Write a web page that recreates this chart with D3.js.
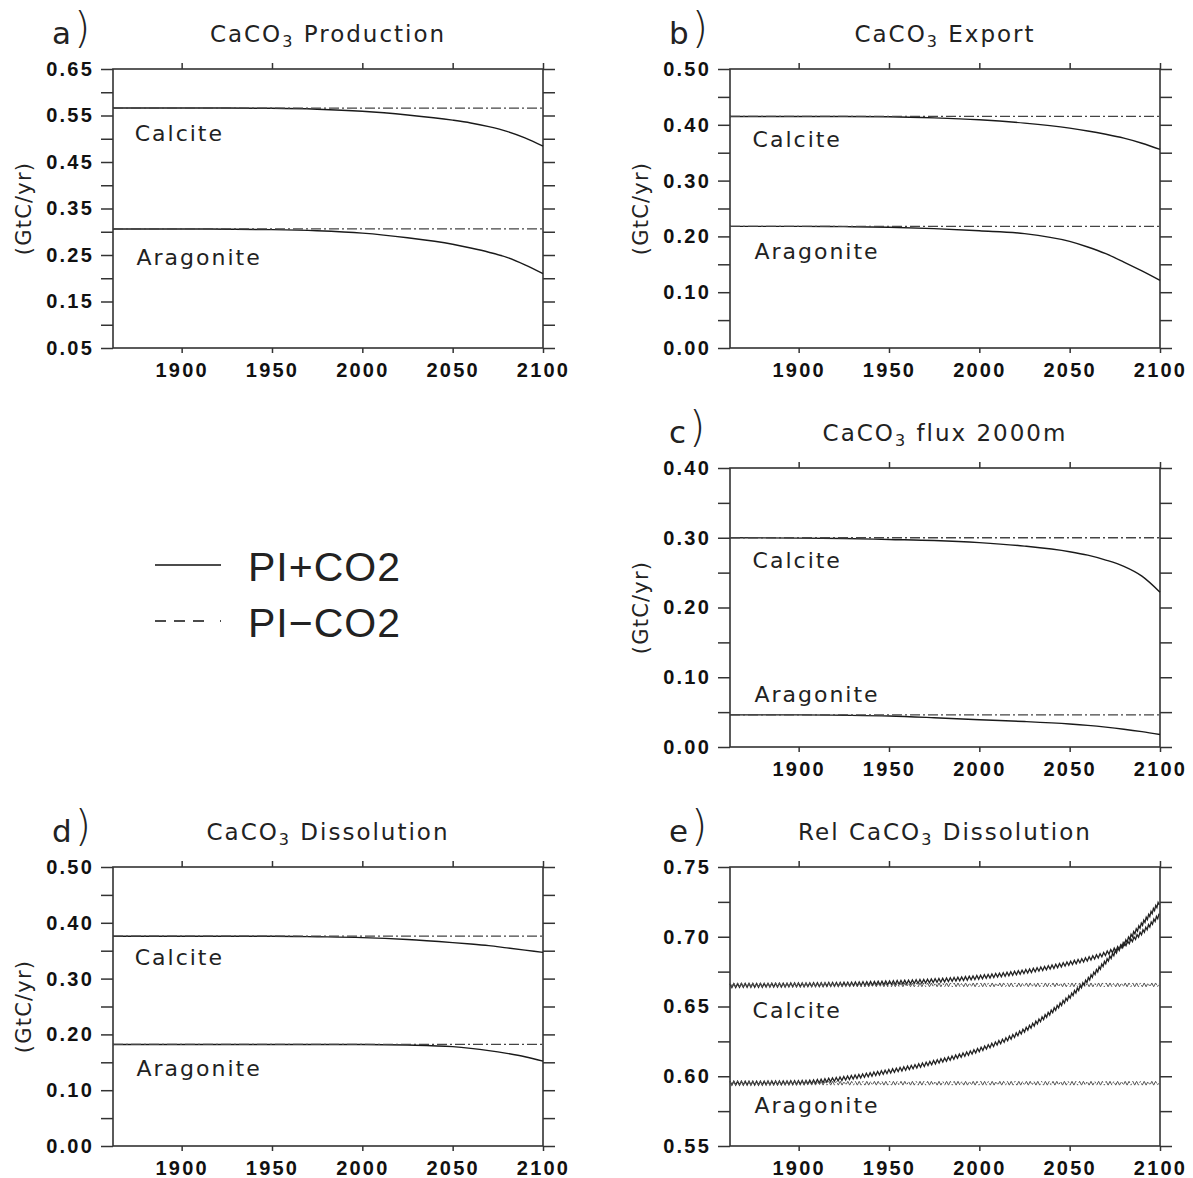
<!DOCTYPE html>
<html>
<head>
<meta charset="utf-8">
<script src="https://cdn.jsdelivr.net/npm/d3@7"></script>
<style>
  body { margin: 0; background: #fff; }
  svg text { font-family: "DejaVu Sans", sans-serif; fill: #222; }
  .tick text { font-family: "Liberation Sans", Arial, sans-serif; font-weight: bold; font-size: 20px; letter-spacing: 2.2px; fill: #111; }
</style>
</head>
<body>
<div id="chart"></div>
<script>
// sample years used by every series
const years = [1862, 1900, 1925, 1950, 1975, 2000, 2025, 2050, 2060, 2070, 2080, 2090, 2100];
const xTicks = [1900, 1950, 2000, 2050, 2100];

// a) production
const prodCalcite     = [0.566, 0.566, 0.566, 0.5655, 0.5635, 0.559, 0.551, 0.540, 0.534, 0.526, 0.516, 0.502, 0.484];
const prodCalciteCtl  = [0.566, 0.566, 0.566, 0.566, 0.566, 0.566, 0.566, 0.566, 0.566, 0.566, 0.566, 0.566, 0.566];
const prodAragonite   = [0.306, 0.306, 0.3055, 0.3045, 0.302, 0.297, 0.287, 0.273, 0.265, 0.256, 0.245, 0.229, 0.210];
const prodAragoniteCtl= [0.306, 0.306, 0.306, 0.306, 0.306, 0.306, 0.306, 0.306, 0.306, 0.306, 0.306, 0.306, 0.306];

// b) export
const expCalcite      = [0.415, 0.415, 0.415, 0.4145, 0.4125, 0.409, 0.403, 0.394, 0.389, 0.383, 0.376, 0.367, 0.356];
const expCalciteCtl   = [0.415, 0.415, 0.415, 0.415, 0.415, 0.415, 0.415, 0.415, 0.415, 0.415, 0.415, 0.415, 0.415];
const expAragonite    = [0.218, 0.218, 0.2175, 0.2165, 0.214, 0.210, 0.205, 0.191, 0.181, 0.169, 0.154, 0.138, 0.121];
const expAragoniteCtl = [0.218, 0.218, 0.218, 0.218, 0.218, 0.218, 0.218, 0.218, 0.218, 0.218, 0.218, 0.218, 0.218];

// c) flux at 2000 m
const fluxCalcite      = [0.300, 0.2995, 0.299, 0.2975, 0.296, 0.293, 0.288, 0.280, 0.275, 0.268, 0.259, 0.245, 0.222];
const fluxCalciteCtl   = [0.300, 0.300, 0.300, 0.300, 0.300, 0.300, 0.300, 0.300, 0.300, 0.300, 0.300, 0.300, 0.300];
const fluxAragonite    = [0.046, 0.046, 0.0455, 0.0445, 0.042, 0.039, 0.0365, 0.033, 0.031, 0.0285, 0.0255, 0.022, 0.018];
const fluxAragoniteCtl = [0.046, 0.046, 0.046, 0.046, 0.046, 0.046, 0.046, 0.046, 0.046, 0.046, 0.046, 0.046, 0.046];

// d) dissolution
const dissCalcite      = [0.376, 0.376, 0.376, 0.376, 0.375, 0.3735, 0.370, 0.3645, 0.362, 0.359, 0.355, 0.351, 0.347];
const dissCalciteCtl   = [0.376, 0.376, 0.376, 0.376, 0.376, 0.376, 0.376, 0.376, 0.376, 0.376, 0.376, 0.376, 0.376];
const dissAragonite    = [0.182, 0.182, 0.182, 0.182, 0.182, 0.182, 0.181, 0.178, 0.175, 0.171, 0.166, 0.160, 0.152];
const dissAragoniteCtl = [0.182, 0.182, 0.182, 0.182, 0.182, 0.182, 0.182, 0.182, 0.182, 0.182, 0.182, 0.182, 0.182];

// e) relative dissolution
const relCalcite       = [0.665, 0.6655, 0.666, 0.667, 0.6685, 0.671, 0.675, 0.681, 0.684, 0.688, 0.694, 0.703, 0.716];
const relCalciteCtl    = [0.6655, 0.6655, 0.6655, 0.6655, 0.6655, 0.6655, 0.6655, 0.6655, 0.6655, 0.6655, 0.6655, 0.6655, 0.6655];
const relAragonite     = [0.595, 0.5955, 0.5985, 0.6035, 0.610, 0.619, 0.633, 0.657, 0.669, 0.682, 0.695, 0.709, 0.725];
const relAragoniteCtl  = [0.595, 0.595, 0.595, 0.595, 0.595, 0.595, 0.595, 0.595, 0.595, 0.595, 0.595, 0.595, 0.595];

// tick labels per panel
const ticksA = [0.05, 0.15, 0.25, 0.35, 0.45, 0.55, 0.65];
const ticks05 = [0.00, 0.10, 0.20, 0.30, 0.40, 0.50];
const ticks04 = [0.00, 0.10, 0.20, 0.30, 0.40];
const ticksE = [0.55, 0.60, 0.65, 0.70, 0.75];

// where "Calcite" / "Aragonite" sit, in data units [year, value]
const labelCalcite   = [[1874, 0.496], [1874.5, 0.361], [1874.5, 0.257], [1874, 0.324], [1874.5, 0.642]];
const labelAragonite = [[1875, 0.228], [1875.5, 0.160], [1875.5, 0.065], [1875, 0.126], [1875.5, 0.574]];

const W = 1193, H = 1178;
const pw = 430, ph = 279;

const panels = [
  { letter: "a", pre: "", post: " Production", left: 113, top: 69, domain: [0.05, 0.65], labels: ticksA, step: 0.05, ylab: true,
    series: [prodCalcite, prodCalciteCtl, prodAragonite, prodAragoniteCtl] },
  { letter: "b", pre: "", post: " Export", left: 730, top: 69, domain: [0, 0.5], labels: ticks05, step: 0.05, ylab: true,
    series: [expCalcite, expCalciteCtl, expAragonite, expAragoniteCtl] },
  { letter: "c", pre: "", post: " flux 2000m", left: 730, top: 468, domain: [0, 0.4], labels: ticks04, step: 0.05, ylab: true,
    series: [fluxCalcite, fluxCalciteCtl, fluxAragonite, fluxAragoniteCtl] },
  { letter: "d", pre: "", post: " Dissolution", left: 113, top: 867, domain: [0, 0.5], labels: ticks05, step: 0.05, ylab: true,
    series: [dissCalcite, dissCalciteCtl, dissAragonite, dissAragoniteCtl] },
  { letter: "e", pre: "Rel ", post: " Dissolution", left: 730, top: 867, domain: [0.55, 0.75], labels: ticksE, step: 0.025, ylab: false, zig: true,
    series: [relCalcite, relCalciteCtl, relAragonite, relAragoniteCtl] }
];

const svg = d3.select("#chart").append("svg")
  .attr("width", W).attr("height", H);

// sawtooth rendering of a path (panel e look)
function zigzag(node, amp, step) {
  const len = node.getTotalLength();
  const pts = [];
  let i = 0;
  for (let s = 0; s <= len; s += step, i++) {
    const p = node.getPointAtLength(s);
    pts.push([p.x, p.y + (i % 2 ? amp : -amp)]);
  }
  return d3.line()(pts);
}

panels.forEach((p, pi) => {
  const g = svg.append("g").attr("transform", "translate(" + p.left + "," + p.top + ")");

  const x = d3.scaleLinear().domain([1862, 2100]).range([0, pw]);
  const y = d3.scaleLinear().domain(p.domain).range([ph, 0]);

  const n = Math.round((p.domain[1] - p.domain[0]) / p.step);
  const allTicks = d3.range(n + 1).map(i => p.domain[0] + i * p.step);
  const isLabel = d => p.labels.some(v => Math.abs(v - d) < 1e-9);

  const ax = [
    g.append("g").call(d3.axisLeft(y).tickValues(allTicks).tickSize(12).tickSizeOuter(0).tickPadding(7)
      .tickFormat(d => isLabel(d) ? d3.format(".2f")(d) : "")),
    g.append("g").attr("transform", "translate(" + pw + ",0)")
      .call(d3.axisRight(y).tickValues(allTicks).tickSize(12).tickSizeOuter(0).tickFormat("")),
    g.append("g").call(d3.axisTop(x).tickValues(xTicks).tickSize(6).tickSizeOuter(0).tickFormat("")),
    g.append("g").attr("transform", "translate(0," + ph + ")")
      .call(d3.axisBottom(x).tickValues(xTicks).tickSize(5).tickSizeOuter(0).tickPadding(10).tickFormat(d3.format("d")))
  ];
  ax.forEach(a => {
    a.select(".domain").remove();
    a.selectAll(".tick line").attr("stroke", "#333").attr("stroke-width", 1.5);
  });

  g.append("rect").attr("width", pw).attr("height", ph)
    .attr("fill", "none").attr("stroke", "#333").attr("stroke-width", 1.6);

  // title
  const t = g.append("text").attr("x", pw / 2).attr("y", -27)
    .attr("text-anchor", "middle").attr("font-size", 23).attr("letter-spacing", 2);
  t.append("tspan").text(p.pre + "CaCO");
  t.append("tspan").attr("font-size", 16).attr("dy", 5).text("3");
  t.append("tspan").attr("dy", -5).text(p.post);

  // panel letter
  const l = g.append("text").attr("x", -61).attr("y", -25);
  l.append("tspan").attr("font-size", 31).text(p.letter);
  l.append("tspan").attr("font-size", 42).attr("font-weight", 200).attr("dx", 3).attr("dy", -1).text(")");

  if (p.ylab) {
    g.append("text").attr("transform", "translate(-89," + (ph / 2) + ") rotate(-90)")
      .attr("text-anchor", "middle").attr("font-size", 21).attr("letter-spacing", 1.2)
      .attr("dy", "0.35em").text("(GtC/yr)");
  }

  const line = d3.line().x((d, i) => x(years[i])).y(d => y(d)).curve(d3.curveMonotoneX);

  p.series.forEach((s, si) => {
    const ctl = si % 2 === 1;
    const path = g.append("path").datum(s)
      .attr("fill", "none")
      .attr("stroke", ctl ? "#444" : "#1a1a1a")
      .attr("stroke-width", ctl ? 1.3 : 1.4)
      .attr("stroke-dasharray", ctl ? "10,3,2,3" : null)
      .attr("d", line);
    if (p.zig) {
      path.attr("d", zigzag(path.node(), 1.9, 1.9))
        .attr("stroke", ctl ? "#555" : "#222")
        .attr("stroke-width", ctl ? 1.0 : 1.3)
        .attr("stroke-dasharray", ctl ? "14,2,2,2" : null);
    }
  });

  g.append("text").attr("x", x(labelCalcite[pi][0])).attr("y", y(labelCalcite[pi][1]))
    .attr("font-size", 22).attr("letter-spacing", 2).text("Calcite");
  g.append("text").attr("x", x(labelAragonite[pi][0])).attr("y", y(labelAragonite[pi][1]))
    .attr("font-size", 22).attr("letter-spacing", 2).text("Aragonite");
});

// legend
const leg = svg.append("g").attr("transform", "translate(155,565)");
leg.append("line").attr("x1", 0).attr("x2", 66).attr("y1", 0).attr("y2", 0)
  .attr("stroke", "#111").attr("stroke-width", 1.4);
leg.append("line").attr("x1", 0).attr("x2", 66).attr("y1", 56).attr("y2", 56)
  .attr("stroke", "#111").attr("stroke-width", 1.4).attr("stroke-dasharray", "11,8,11,8,11,16,1,20");
leg.append("text").attr("x", 93).attr("y", 16).attr("letter-spacing", 1)
  .style("font-family", "'Liberation Sans', Arial, sans-serif").attr("font-size", 41).attr("fill", "#111").text("PI+CO2");
leg.append("text").attr("x", 93).attr("y", 72).attr("letter-spacing", 1)
  .style("font-family", "'Liberation Sans', Arial, sans-serif").attr("font-size", 41).attr("fill", "#111").text("PI\u2212CO2");
</script>
</body>
</html>
